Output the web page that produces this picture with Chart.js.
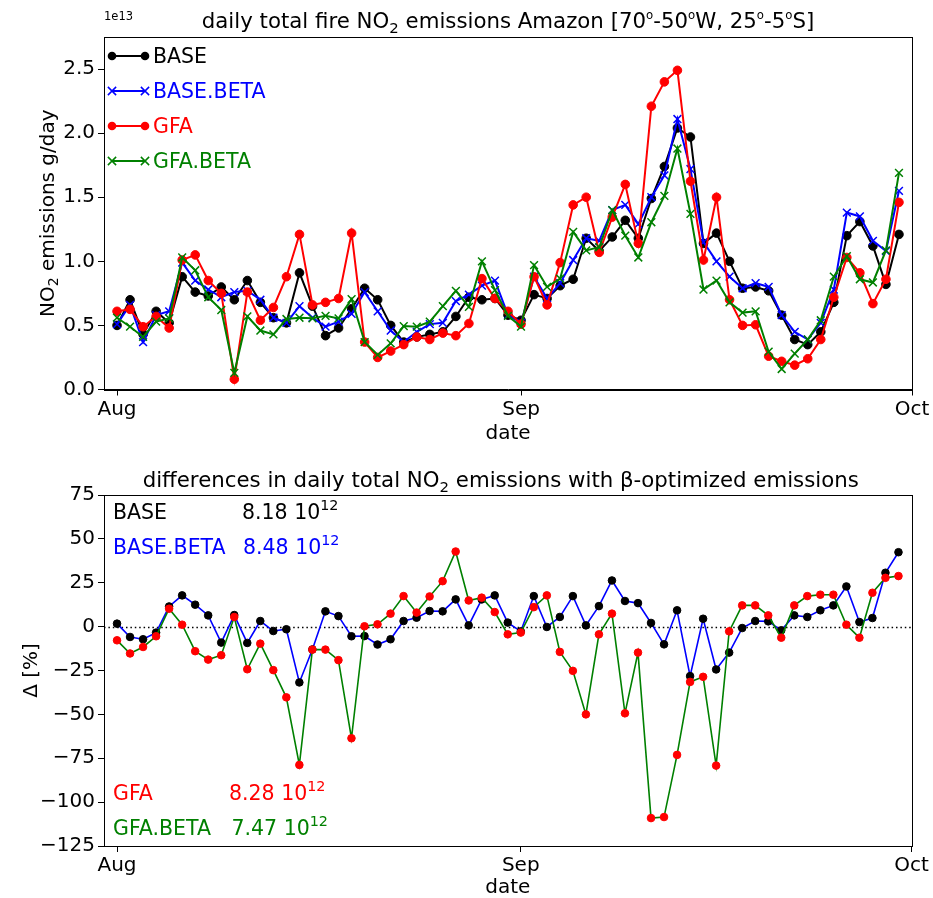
<!DOCTYPE html>
<html><head><meta charset="utf-8">
<script src="https://cdn.jsdelivr.net/npm/chart.js@4/dist/chart.umd.min.js"></script>
<style>
html,body{margin:0;padding:0;background:#fff;}
#wrap{position:relative;width:933px;height:898px;background:#fff;}
#c1{position:absolute;left:0;top:0;}
#c2{position:absolute;left:0;top:450px;}
</style></head><body>
<div id="wrap"><canvas id="c1" width="933" height="450"></canvas><canvas id="c2" width="933" height="448"></canvas></div>
<script>
// ---- data ----
const dayIndex = [0,1,2,3,4,5,6,7,8,9,10,11,12,13,14,15,16,17,18,19,20,21,22,23,24,25,26,27,28,29,30,
  31,32,33,34,35,36,37,38,39,40,41,42,43,44,45,46,47,48,49,50,51,52,53,54,55,56,57,58,59,60];
const monthTickDays = [0, 31, 61];
const monthTickLabels = ['Aug', 'Sep', 'Oct'];
const seriesNames = ['BASE', 'BASE.BETA', 'GFA', 'GFA.BETA'];
// daily totals, units of 1e13 g/day
const base = [0.50,0.70,0.43,0.61,0.52,0.88,0.76,0.73,0.80,0.70,0.85,0.68,0.56,0.52,0.91,0.65,0.42,0.48,0.63,0.79,
  0.70,0.50,0.37,0.41,0.43,0.45,0.57,0.72,0.70,0.71,0.58,
  0.54,0.74,0.71,0.81,0.86,1.18,1.08,1.19,1.32,1.18,
  1.49,1.74,2.04,1.97,1.14,1.22,1.00,0.79,0.80,0.77,
  0.58,0.39,0.35,0.45,0.68,1.20,1.31,1.12,0.82,1.21];
const baseBeta = [0.51,0.66,0.37,0.58,0.61,0.99,0.85,0.78,0.72,0.76,0.77,0.70,0.56,0.52,0.65,0.56,0.49,0.53,0.59,0.76,
  0.61,0.46,0.37,0.45,0.51,0.52,0.69,0.74,0.81,0.85,0.58,
  0.52,0.88,0.71,0.83,1.01,1.18,1.16,1.40,1.44,1.29,
  1.50,1.67,2.11,1.72,1.15,1.00,0.88,0.79,0.83,0.80,
  0.58,0.45,0.39,0.52,0.78,1.38,1.35,1.16,1.08,1.55];
const gfa = [0.61,0.625,0.49,0.57,0.48,1.01,1.05,0.85,0.75,0.08,0.76,0.54,0.64,0.88,1.21,0.66,0.68,0.71,1.22,0.37,
  0.25,0.30,0.35,0.41,0.39,0.44,0.42,0.515,0.865,0.71,0.61,
  0.51,0.88,0.66,0.99,1.44,1.50,1.07,1.345,1.60,1.14,
  2.21,2.40,2.49,1.625,1.01,1.50,0.70,0.50,0.505,0.26,
  0.22,0.19,0.24,0.39,0.72,1.03,0.91,0.67,0.86,1.46];
const gfaBeta = [0.56,0.49,0.41,0.53,0.555,1.03,0.93,0.72,0.62,0.13,0.57,0.46,0.43,0.55,0.56,0.555,0.575,0.555,0.705,0.37,
  0.27,0.36,0.495,0.49,0.53,0.65,0.77,0.645,1.00,0.775,0.575,
  0.49,0.97,0.80,0.865,1.23,1.085,1.11,1.40,1.20,1.03,
  1.305,1.51,1.88,1.37,0.78,0.85,0.68,0.60,0.61,0.295,
  0.16,0.28,0.39,0.54,0.88,1.04,0.86,0.835,1.085,1.69];
// differences in %
const diffBase = [1.7,-5.9,-7.2,-3.4,11.5,17.8,12.5,6.4,-9.1,6.6,-9.3,3.2,-2.5,-1.5,-31.8,-13.0,8.7,6.0,-5.5,-5.4,
  -10.2,-7.2,3.2,5.1,8.9,8.7,15.5,0.7,15.5,17.8,2.3,
  -2.7,17.4,-0.2,5.5,17.4,0.7,11.7,26.3,14.6,13.4,
  2.1,-10.1,9.3,-28.2,4.5,-24.4,-14.8,-0.8,3.2,3.0,
  -2.1,6.4,5.5,9.3,12.1,22.9,2.6,4.9,30.7,42.4];
const diffGfa = [-7.8,-15.3,-11.6,-5.5,10.2,1.1,-14.0,-18.8,-16.3,5.5,-24.3,-9.7,-24.8,-40.3,-78.8,-13.1,-13.1,-19.1,-63.6,0.2,
  1.3,7.4,17.4,8.0,17.2,25.9,42.8,14.9,16.5,8.3,-4.4,
  -3.4,11.1,17.8,-14.4,-25.2,-50.0,-4.4,7.4,-49.4,-14.8,
  -109.1,-108.5,-73.1,-31.5,-28.6,-79.2,-2.7,12.1,12.1,6.4,
  -6.3,12.1,17.4,18.2,18.2,1.1,-6.3,19.3,27.8,28.8];
const totalsValues = ['8.18', '8.48', '8.28', '7.47'];
const totalsExponent = '12';
const topYTicks = [0, 0.5, 1.0, 1.5, 2.0, 2.5];
const bottomYTicks = [-125, -100, -75, -50, -25, 0, 25, 50, 75];

// ---- rendering ----
const FONT = "'DejaVu Sans', sans-serif";
const FS = 20;
const TS = 21.3;
Chart.defaults.font.family = FONT;
Chart.defaults.font.size = FS;
Chart.defaults.color = '#000';

const colors = {black:'#000000', blue:'#0000ff', red:'#ff0000', green:'#008000'};

function pts(arr){ return arr.map((v,i)=>({x:dayIndex[i], y:v})); }

function sz(p, size){ return p.sub ? size*0.7 : (p.sup ? size*(p.small?0.55:0.7) : size); }
function richWidth(ctx, parts, size){
  let w=0;
  for(const p of parts){ ctx.font=sz(p,size)+'px '+FONT; w+=ctx.measureText(p.t).width; }
  return w;
}
function drawRich(ctx, parts, x, y, size, align, color){
  const w = richWidth(ctx, parts, size);
  let cx = align==='center' ? x-w/2 : (align==='right' ? x-w : x);
  ctx.textAlign='left'; ctx.textBaseline='alphabetic'; ctx.fillStyle=color||'#000';
  for(const p of parts){
    ctx.font=sz(p,size)+'px '+FONT;
    const dy=p.sub?size*0.22:(p.sup?-size*0.42:0);
    ctx.fillText(p.t, cx, y+dy);
    cx+=ctx.measureText(p.t).width;
  }
}
function drawMarker(ctx, style, x, y, r, color, lw){
  ctx.save();
  ctx.strokeStyle=color; ctx.fillStyle=color; ctx.lineWidth=lw;
  if(style==='circle'){ ctx.beginPath(); ctx.arc(x,y,r,0,Math.PI*2); ctx.fill(); }
  else { const d=r*0.75; ctx.beginPath(); ctx.moveTo(x-d,y-d); ctx.lineTo(x+d,y+d); ctx.moveTo(x+d,y-d); ctx.lineTo(x-d,y+d); ctx.stroke(); }
  ctx.restore();
}

function xScale(h){
  return {
    type:'linear', min:-1, max:61,
    afterBuildTicks: s => { s.ticks = monthTickDays.map(v=>({value:v})); },
    afterFit: s => { s.height = h; },
    ticks:{ autoSkip:false, maxRotation:0, padding:2, callback: v => monthTickLabels[monthTickDays.indexOf(v)] },
    grid:{ drawOnChartArea:false, drawTicks:true, tickLength:6, color:'#000', lineWidth:1 },
    border:{ display:true, color:'#000', width:1 }
  };
}
function yScale(min, max, tickList, fmt){
  return {
    type:'linear', min:min, max:max,
    afterBuildTicks: s => { s.ticks = tickList.map(v=>({value:v})); },
    afterFit: s => { s.width = 104; },
    ticks:{ autoSkip:false, padding:3, callback: fmt },
    grid:{ drawOnChartArea:false, drawTicks:true, tickLength:6, color:'#000', lineWidth:1 },
    border:{ display:true, color:'#000', width:1 }
  };
}

const framePlugin = {
  id:'frame',
  afterDraw(chart){
    const {ctx, chartArea:a} = chart;
    ctx.save(); ctx.strokeStyle='#000'; ctx.lineWidth=1;
    ctx.strokeRect(Math.round(a.left)+0.5, Math.round(a.top)+0.5, Math.round(a.right-a.left), Math.round(a.bottom-a.top));
    ctx.restore();
  }
};

const topDecor = {
  id:'topDecor',
  afterDraw(chart){
    const {ctx, chartArea:a} = chart;
    const cx=(a.left+a.right)/2, cy=(a.top+a.bottom)/2;
    drawRich(ctx, [{t:'daily total fire NO'},{t:'2',sub:true},{t:' emissions Amazon [70'},{t:'o',sup:true,small:true},{t:'-50'},{t:'o',sup:true,small:true},{t:'W, 25'},{t:'o',sup:true,small:true},{t:'-5'},{t:'o',sup:true,small:true},{t:'S]'}], cx, 28, TS, 'center');
    drawRich(ctx, [{t:'1e13'}], a.left, 20, 11.5, 'left');
    drawRich(ctx, [{t:'date'}], cx, 439, FS, 'center');
    ctx.save(); ctx.translate(47, cy); ctx.rotate(-Math.PI/2);
    drawRich(ctx, [{t:'NO'},{t:'2',sub:true},{t:' emissions g/day'}], 0, 7, FS, 'center');
    ctx.restore();
    // legend
    chart.data.datasets.forEach((ds,i)=>{
      const y = a.top + 19 + 35*i;
      ctx.save(); ctx.strokeStyle=ds.borderColor; ctx.lineWidth=ds.borderWidth;
      ctx.beginPath(); ctx.moveTo(a.left+8, y); ctx.lineTo(a.left+41, y); ctx.stroke(); ctx.restore();
      drawMarker(ctx, ds.pointStyle, a.left+8, y, ds.pointRadius, ds.pointBorderColor, ds.pointBorderWidth);
      drawMarker(ctx, ds.pointStyle, a.left+41, y, ds.pointRadius, ds.pointBorderColor, ds.pointBorderWidth);
      drawRich(ctx, [{t:ds.label}], a.left+49, y+7, 20.5, 'left', ds.borderColor);
    });
  }
};

const bottomDecor = {
  id:'bottomDecor',
  beforeDatasetsDraw(chart){
    const {ctx, chartArea:a, scales} = chart;
    const y0 = Math.round(scales.y.getPixelForValue(0))+0.5;
    ctx.save(); ctx.strokeStyle='#000'; ctx.lineWidth=1.3; ctx.setLineDash([1.5,2.9]);
    ctx.beginPath(); ctx.moveTo(a.left,y0); ctx.lineTo(a.right,y0); ctx.stroke(); ctx.restore();
  },
  afterDraw(chart){
    const {ctx, chartArea:a} = chart;
    const cx=(a.left+a.right)/2, cy=(a.top+a.bottom)/2;
    drawRich(ctx, [{t:'differences in daily total NO'},{t:'2',sub:true},{t:' emissions with β-optimized emissions'}], cx-7, 37, TS, 'center');
    drawRich(ctx, [{t:'date'}], cx, 443, FS, 'center');
    ctx.save(); ctx.translate(30, cy); ctx.rotate(-Math.PI/2);
    drawRich(ctx, [{t:'Δ [%]'}], 0, 7, FS, 'center');
    ctx.restore();
    const rowColors = [colors.black, colors.blue, colors.red, colors.green];
    const rowY = [69, 103.5, 349.5, 384.5];
    const valX = [242, 243, 229, 231.5];
    seriesNames.forEach((n,i)=>{
      drawRich(ctx, [{t:n}], a.left+9, rowY[i], 20.5, 'left', rowColors[i]);
      drawRich(ctx, [{t:totalsValues[i]+' 10'},{t:totalsExponent,sup:true}], valX[i], rowY[i], 20.5, 'left', rowColors[i]);
    });
  }
};

function lineDs(label, data, color, style, radius, order, ptColor, lw){
  return {
    label, data: pts(data), borderColor: color, borderWidth: lw, order,
    pointStyle: style, pointRadius: radius, pointBorderColor: ptColor||color,
    pointBackgroundColor: ptColor||color, pointBorderWidth: style==='circle'?1:1.5,
    pointHoverRadius: radius, tension:0, fill:false
  };
}

new Chart(document.getElementById('c1'), {
  type:'line',
  data:{ datasets:[
    lineDs(seriesNames[0], base, colors.black, 'circle', 4.3, 3, null, 2),
    lineDs(seriesNames[1], baseBeta, colors.blue, 'crossRot', 5.5, 2, null, 2),
    lineDs(seriesNames[2], gfa, colors.red, 'circle', 4.3, 1, null, 2),
    lineDs(seriesNames[3], gfaBeta, colors.green, 'crossRot', 5.5, 0, null, 2)
  ]},
  options:{
    responsive:false, animation:false, events:[],
    layout:{ padding:{ left:0, right:21, top:37, bottom:0 } },
    plugins:{ legend:{display:false}, tooltip:{enabled:false}, title:{display:false} },
    scales:{ x: xScale(60.5), y: yScale(0, 2.75, topYTicks, v => v.toFixed(1)) }
  },
  plugins:[framePlugin, topDecor]
});

new Chart(document.getElementById('c2'), {
  type:'line',
  data:{ datasets:[
    lineDs(seriesNames[0], diffBase, colors.blue, 'circle', 3.8, 1, colors.black, 1.6),
    lineDs(seriesNames[2], diffGfa, colors.green, 'circle', 3.8, 0, colors.red, 1.6)
  ]},
  options:{
    responsive:false, animation:false, events:[],
    layout:{ padding:{ left:0, right:21.5, top:45, bottom:0 } },
    plugins:{ legend:{display:false}, tooltip:{enabled:false}, title:{display:false} },
    scales:{ x: xScale(52), y: yScale(-125, 75, bottomYTicks, v => v<0 ? '\u2212'+Math.abs(v) : String(v)) }
  },
  plugins:[framePlugin, bottomDecor]
});
</script>
</body></html>
